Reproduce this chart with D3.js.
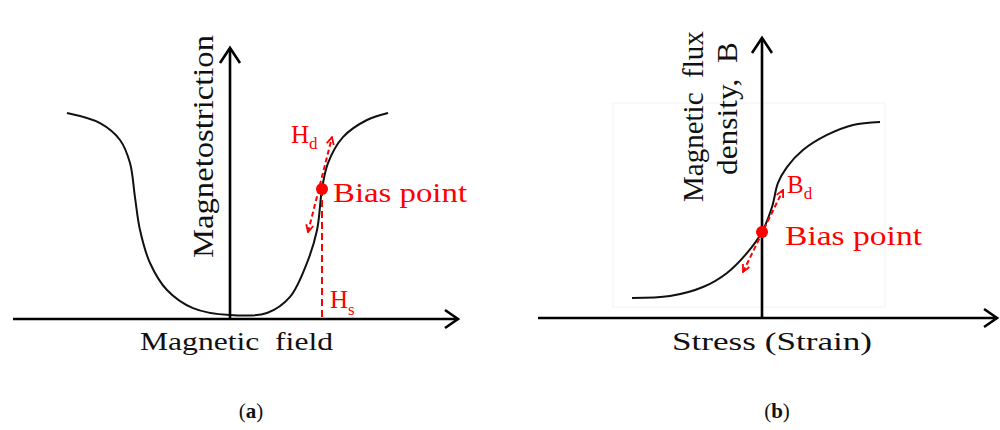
<!DOCTYPE html>
<html>
<head>
<meta charset="utf-8">
<script src="https://cdn.jsdelivr.net/npm/d3@7"></script>
<style>
  body { margin: 0; background: #fff; }
  svg { display: block; }
  text { font-family: "Liberation Serif", "Times New Roman", Times, "DejaVu Serif", serif; }
</style>
</head>
<body>
<svg id="chart" width="1000" height="430"></svg>
<script>
// ---- Panel (a): magnetostriction vs. magnetic field (normalised units) ----
const fieldA      = [-1.019, -0.8125, -0.6875, -0.625, -0.594, -0.5625, -0.5, -0.394, -0.231, 0, 0.231, 0.375, 0.481, 0.544, 0.575, 0.6125, 0.706, 0.856, 0.988];
const strictionA  = [1.0, 0.951, 0.869, 0.757, 0.592, 0.432, 0.272, 0.141, 0.053, 0.019, 0.029, 0.107, 0.272, 0.432, 0.631, 0.757, 0.883, 0.966, 1.0];
const biasA       = [0.575, 0.631];               // bias point (field, magnetostriction)
const hdArrowA    = [[0.4875, 0.422], [0.6375, 0.883]];
const axisExtentA = { xMin: -1.356, xMax: 1.425, yMax: 1.316 };

// ---- Panel (b): flux density vs. stress (normalised units) ----
const stressB     = [-1.0, -0.708, -0.454, -0.269, -0.115, 0, 0.077, 0.123, 0.192, 0.315, 0.5, 0.7, 0.908];
const fluxB       = [0.102, 0.112, 0.158, 0.230, 0.332, 0.439, 0.566, 0.689, 0.770, 0.857, 0.934, 0.985, 1.0];
const biasB       = [0, 0.439];                   // bias point (stress, flux density)
const bdArrowB    = [[-0.146, 0.235], [0.162, 0.653]];
const frameB      = [[-1.146, 1.097], [0.946, 0.056]];
const axisExtentB = { xMin: -1.723, xMax: 1.808, yMax: 1.429 };

const RED = "#ff0000";
const INK = "#111";
const svg = d3.select("#chart");

const defs = svg.append("defs");
defs.append("marker")
  .attr("id", "redHead")
  .attr("viewBox", "0 0 10 10")
  .attr("refX", 9).attr("refY", 5)
  .attr("markerWidth", 4.5).attr("markerHeight", 4.5)
  .attr("orient", "auto-start-reverse")
  .append("path")
  .attr("d", "M1,1 L9,5 L1,9")
  .attr("fill", "none").attr("stroke", RED).attr("stroke-width", 2);

// scales
const xA = d3.scaleLinear().domain([-1, 1]).range([70, 390]);
const yA = d3.scaleLinear().domain([0, 1]).range([319, 113]);
const xB = d3.scaleLinear().domain([-1, 1]).range([632, 892]);
const yB = d3.scaleLinear().domain([0, 1]).range([318, 122]);

function drawAxes(g, x, y, ext) {
  const y0 = y(0), x0 = x(0), xe = x(ext.xMax), yt = y(ext.yMax);
  g.append("line").attr("x1", x(ext.xMin)).attr("y1", y0).attr("x2", xe).attr("y2", y0)
    .attr("stroke", "#000").attr("stroke-width", 2.6);
  g.append("line").attr("x1", x0).attr("y1", y0 + 1).attr("x2", x0).attr("y2", yt)
    .attr("stroke", "#000").attr("stroke-width", 2.6);
  g.append("path").attr("d", `M${xe - 13},${y0 - 9} L${xe},${y0} L${xe - 13},${y0 + 9}`)
    .attr("fill", "none").attr("stroke", "#000").attr("stroke-width", 2.6);
  g.append("path").attr("d", `M${x0 - 10},${yt + 15} L${x0},${yt} L${x0 + 10},${yt + 15}`)
    .attr("fill", "none").attr("stroke", "#000").attr("stroke-width", 2.6);
}

function drawCurve(g, x, y, xs, ys) {
  const line = d3.line().x(d => x(d[0])).y(d => y(d[1])).curve(d3.curveCatmullRom.alpha(0.5));
  g.append("path").datum(d3.zip(xs, ys)).attr("d", line)
    .attr("fill", "none").attr("stroke", INK).attr("stroke-width", 2);
}

function drawDashedArrow(g, x, y, seg) {
  g.append("line")
    .attr("x1", x(seg[0][0])).attr("y1", y(seg[0][1]))
    .attr("x2", x(seg[1][0])).attr("y2", y(seg[1][1]))
    .attr("stroke", RED).attr("stroke-width", 2)
    .attr("stroke-dasharray", "5,3")
    .attr("marker-start", "url(#redHead)")
    .attr("marker-end", "url(#redHead)");
}

function subLabel(g, px, py, main, sub, size, subSize, shift) {
  const t = g.append("text").attr("x", px).attr("y", py).attr("fill", RED).attr("font-size", size);
  t.append("tspan").text(main);
  t.append("tspan").attr("font-size", subSize).attr("dy", shift).text(sub);
}

// ---------- Panel (a) ----------
const gA = svg.append("g");
drawCurve(gA, xA, yA, fieldA, strictionA);
drawAxes(gA, xA, yA, axisExtentA);

// H_s marker: dashed drop from bias point to the field axis
gA.append("line")
  .attr("x1", xA(biasA[0])).attr("y1", yA(biasA[1]))
  .attr("x2", xA(biasA[0])).attr("y2", yA(0))
  .attr("stroke", RED).attr("stroke-width", 2).attr("stroke-dasharray", "7,4");
drawDashedArrow(gA, xA, yA, hdArrowA);
gA.append("circle").attr("cx", xA(biasA[0])).attr("cy", yA(biasA[1])).attr("r", 6).attr("fill", RED);

gA.append("text").attr("x", xA(biasA[0]) + 11).attr("y", yA(biasA[1]) + 13)
  .attr("fill", RED).attr("font-size", 28).attr("textLength", 134).attr("lengthAdjust", "spacingAndGlyphs")
  .text("Bias point");
subLabel(gA, 291, 143, "H", "d", 25, 17, 6);
subLabel(gA, 330, 308, "H", "s", 25, 17, 7);

gA.append("text")
  .attr("transform", "translate(213,258) rotate(-90)")
  .attr("font-size", 29).attr("textLength", 223).attr("lengthAdjust", "spacingAndGlyphs")
  .attr("fill", INK).text("Magnetostriction");
gA.append("text").attr("x", 140).attr("y", 350)
  .attr("font-size", 26).attr("textLength", 193).attr("lengthAdjust", "spacingAndGlyphs")
  .attr("fill", INK).attr("xml:space", "preserve").text("Magnetic  field");

const capA = gA.append("text").attr("x", 251).attr("y", 418).attr("text-anchor", "middle")
  .attr("font-size", 21).attr("fill", INK);
capA.append("tspan").text("(");
capA.append("tspan").attr("font-weight", "bold").text("a");
capA.append("tspan").text(")");

// ---------- Panel (b) ----------
const gB = svg.append("g");
gB.append("rect")
  .attr("x", xB(frameB[0][0])).attr("y", yB(frameB[0][1]))
  .attr("width", xB(frameB[1][0]) - xB(frameB[0][0]))
  .attr("height", yB(frameB[1][1]) - yB(frameB[0][1]))
  .attr("fill", "none").attr("stroke", "#f3f3f3").attr("stroke-width", 1);
drawCurve(gB, xB, yB, stressB, fluxB);
drawAxes(gB, xB, yB, axisExtentB);
drawDashedArrow(gB, xB, yB, bdArrowB);
gB.append("circle").attr("cx", xB(biasB[0])).attr("cy", yB(biasB[1])).attr("r", 6).attr("fill", RED);

gB.append("text").attr("x", xB(biasB[0]) + 23).attr("y", yB(biasB[1]) + 13)
  .attr("fill", RED).attr("font-size", 28).attr("textLength", 137).attr("lengthAdjust", "spacingAndGlyphs")
  .text("Bias point");
subLabel(gB, 787, 193, "B", "d", 25, 17, 6);

gB.append("text")
  .attr("transform", "translate(703,202) rotate(-90)")
  .attr("font-size", 29).attr("fill", INK).attr("xml:space", "preserve").text("Magnetic  flux");
gB.append("text")
  .attr("transform", "translate(737,175) rotate(-90)")
  .attr("font-size", 29).attr("fill", INK).attr("textLength", 133).attr("lengthAdjust", "spacingAndGlyphs")
  .attr("xml:space", "preserve").text("density,  B");
gB.append("text").attr("x", 672).attr("y", 350)
  .attr("font-size", 26).attr("textLength", 200).attr("lengthAdjust", "spacingAndGlyphs")
  .attr("fill", INK).text("Stress (Strain)");

const capB = gB.append("text").attr("x", 777).attr("y", 418).attr("text-anchor", "middle")
  .attr("font-size", 21).attr("fill", INK);
capB.append("tspan").text("(");
capB.append("tspan").attr("font-weight", "bold").text("b");
capB.append("tspan").text(")");
</script>
</body>
</html>
